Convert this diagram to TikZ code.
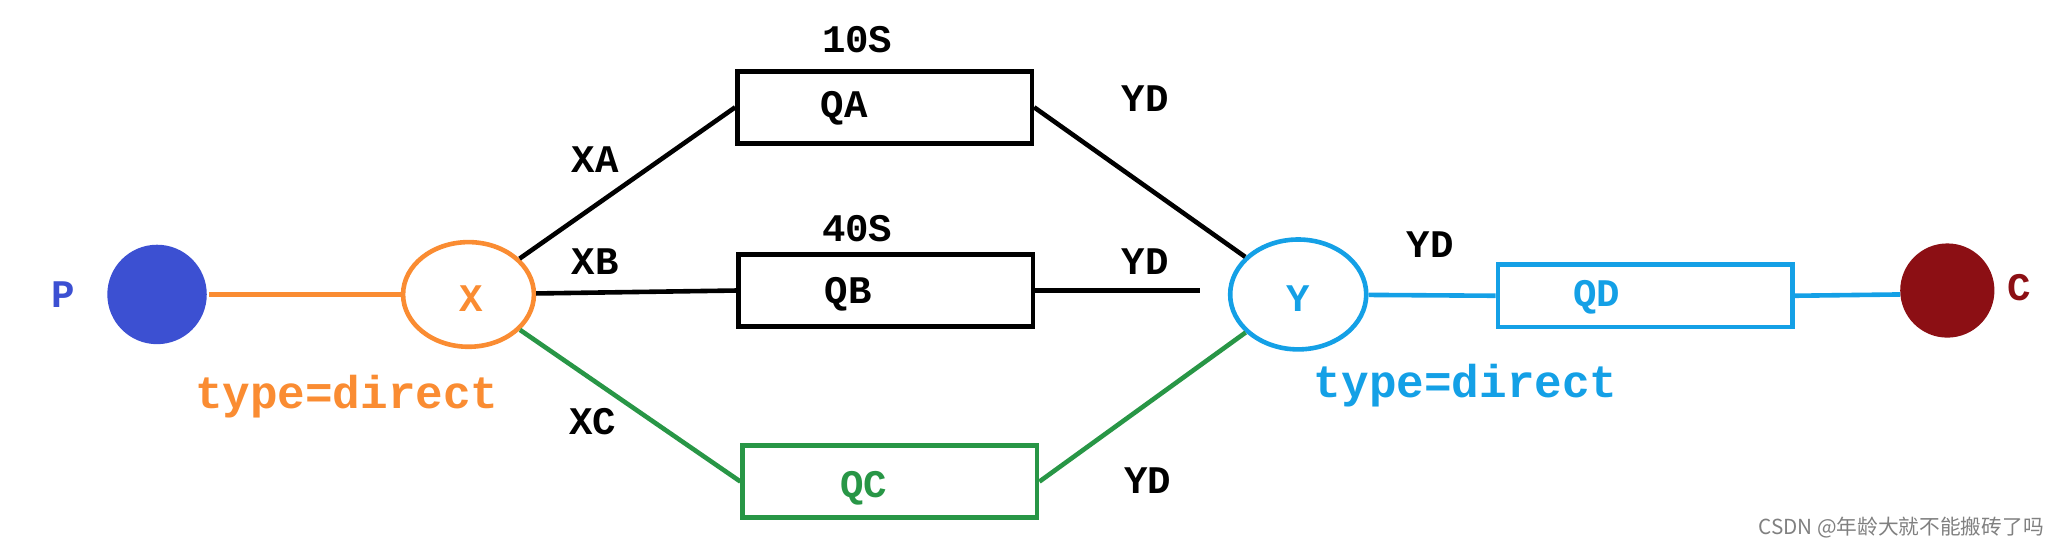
\documentclass[tikz,border=0pt]{standalone}
\usepackage{fontspec}
\setmonofont{Liberation Mono}
\newfontfamily\cjk{Noto Sans CJK SC}
\usetikzlibrary{shapes.geometric}
\definecolor{xorange}{RGB}{250,140,50}
\definecolor{yblue}{RGB}{20,160,230}
\definecolor{pblue}{RGB}{60,80,210}
\definecolor{cred}{RGB}{140,15,20}
\definecolor{qgreen}{RGB}{40,150,70}
\tikzset{
  txt/.style={font=\ttfamily\bfseries\fontsize{17}{20}\selectfont,inner sep=0pt},
  queue/.style={draw,line width=2pt,minimum width=4.5cm,minimum height=1.1cm},
  exch/.style={draw,ellipse,line width=2pt,minimum width=2cm,minimum height=1.6cm},
  link/.style={line width=2pt}
}
\begin{document}
\begin{tikzpicture}[x=0.02cm,y=-0.02cm]
\useasboundingbox (0,0) rectangle (1568,418);
% producer, consumer
\fill[pblue] (120,225) circle (38) coordinate (p);
\node[txt,pblue] (plabel) at (48,225) {P};
\fill[cred] (1488,222) circle (36);
\coordinate (c) at (1452,225);
\node[txt,cred] (clabel) at (1543,220) {C};

% exchanges
\node[exch,xorange,text=xorange] (x) at (358,225) {};
\node[txt,xorange] (xlabel) at (360,228) {X};
\node[txt,xorange] (xtype) at (265,303) {\fontsize{20}{22}\selectfont type=direct};
\node[exch,yblue,minimum width=2.08cm,minimum height=1.68cm] (y) at (992,225) {};
\node[txt,yblue] (ylabel) at (992,228) {Y};
\node[txt,yblue] (ytype) at (1120,295) {\fontsize{20}{22}\selectfont type=direct};

% queues
\node[queue] (qa) at (676,82) {};
\node[txt] at (645,83) {QA};
\node[txt] at (655,30) {10S};
\node[queue] (qb) at (677,222) {};
\node[txt] at (648,225) {QB};
\node[txt] at (655,175) {40S};
\node[queue,qgreen] (qc) at (680,368) {};
\node[txt,qgreen] at (660,373) {QC};
\node[queue,yblue,minimum height=0.96cm] (qd) at (1257,226) {};
\node[txt,yblue] at (1220,227) {QD};

% bindings
\draw[link,xorange] (p) ++(40,0) -- (x);
\draw[link] (x) -- (qa.west);
\draw[link] (x) -- (qb.west);
\draw[link,qgreen] (x) -- (qc.west);
\draw[link] (qa.east) -- (y);
\draw[link,shorten >=8pt] (qb.east) -- ++(140,0);
\draw[link,qgreen] (qc.east) -- (y);
\draw[link,yblue] (y) -- (qd.west);
\draw[link,yblue] (qd.east) -- (c);

% routing keys
\node[txt] at (455,122) {XA};
\node[txt] at (455,200) {XB};
\node[txt] at (453,322) {XC};
\node[txt] at (875,75) {YD};
\node[txt] at (875,200) {YD};
\node[txt] at (877,367) {YD};
\node[txt] at (1093,187) {YD};

\node[gray,font=\cjk\fontsize{9}{11}\selectfont,inner sep=0pt,anchor=east] (mark) at (1562,403) {CSDN @年龄大就不能搬砖了吗};
\end{tikzpicture}
\end{document}
